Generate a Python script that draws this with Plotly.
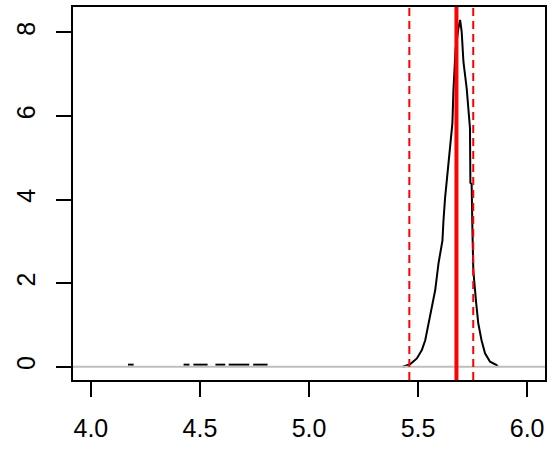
import plotly.graph_objects as go

# small isolated bumps of the density far left (start, end, height)
bump_x0 = [4.170, 4.425, 4.470, 4.571, 4.632, 4.744]
bump_x1 = [4.196, 4.452, 4.535, 4.616, 4.726, 4.810]
bump_h = 0.05

# main density curve
dens_x = [5.430, 5.4416, 5.4644, 5.4945, 5.5174, 5.5329, 5.548, 5.563, 5.5785, 5.5936,
          5.6056, 5.6118, 5.6164, 5.624, 5.636, 5.647, 5.6575, 5.662, 5.672,
          5.685, 5.6927, 5.700, 5.708, 5.723, 5.7333, 5.738, 5.740, 5.7457,
          5.749, 5.7534, 5.766, 5.776, 5.791, 5.807, 5.830, 5.860, 5.866]
dens_y = [0, 0.02, 0.064, 0.20, 0.40, 0.635, 1.04, 1.43, 1.83, 2.47,
          2.78, 3.02, 3.49, 4.05, 4.68, 5.24, 5.83, 6.59, 7.6,
          8.1, 8.30, 8.02, 7.30, 6.66, 6.11, 5.71, 4.40, 4.37,
          3.33, 2.30, 1.55, 1.04, 0.635, 0.32, 0.12, 0.04, 0]

estimate = 5.676
interval = [5.460, 5.753]

x_ticks = [4.0, 4.5, 5.0, 5.5, 6.0]
y_ticks = [0, 2, 4, 6, 8]

bx, by = [], []
for a, b in zip(bump_x0, bump_x1):
    bx += [a, b, None]
    by += [bump_h, bump_h, None]

fig = go.Figure()
fig.add_trace(go.Scatter(x=bx, y=by, mode="lines",
                         line=dict(color="black", width=2), showlegend=False))
fig.add_trace(go.Scatter(x=dens_x, y=dens_y, mode="lines",
                         line=dict(color="black", width=2), showlegend=False))

# grey baseline, then the red reference lines
fig.add_shape(type="line", xref="paper", x0=0, x1=1, yref="y", y0=0, y1=0,
              line=dict(color="#BEBEBE", width=2), layer="above")
fig.add_shape(type="line", xref="x", x0=estimate, x1=estimate, yref="paper", y0=0, y1=1,
              line=dict(color="red", width=4), layer="above")
for v in interval:
    fig.add_shape(type="line", xref="x", x0=v, x1=v, yref="paper", y0=0, y1=1,
                  line=dict(color="red", width=2, dash="8px,5px"), layer="above")

axis_common = dict(showline=True, mirror=True, linecolor="black", linewidth=2,
                   ticks="outside", ticklen=15, tickwidth=2, tickcolor="black",
                   showgrid=False, zeroline=False,
                   tickfont=dict(family="Liberation Sans", size=25, color="black"))

fig.update_xaxes(range=[3.918, 6.082], tickvals=x_ticks,
                 ticktext=["4.0", "4.5", "5.0", "5.5", "6.0"],
                 ticklabelstandoff=10, **axis_common)
fig.update_yaxes(range=[-0.317, 8.61], tickvals=y_ticks, tickangle=-90,
                 ticklabelstandoff=11, **axis_common)

fig.update_layout(width=552, height=450, margin=dict(l=73, r=5, t=5, b=70),
                  plot_bgcolor="white", paper_bgcolor="white")

fig.write_html("out.html", config={"displayModeBar": False},
               post_script="document.body.style.margin='0';")
